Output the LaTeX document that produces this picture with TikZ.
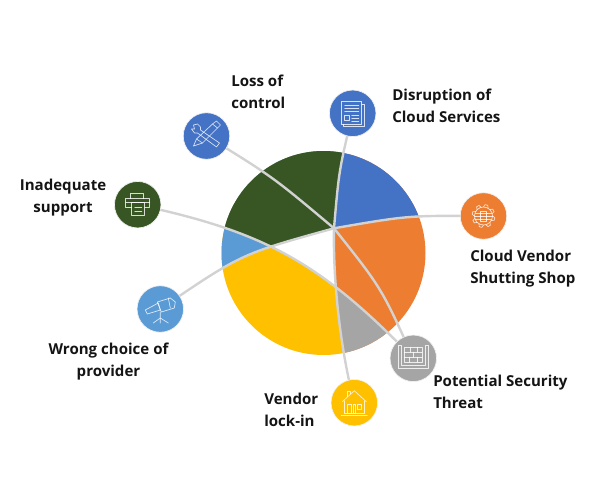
\documentclass[tikz,border=0pt]{standalone}
\usepackage{fontspec}
\setmainfont{Open Sans}
\usetikzlibrary{backgrounds}
\definecolor{cblue}{HTML}{4472C4}
\definecolor{corange}{HTML}{ED7D31}
\definecolor{cgrey}{HTML}{A5A5A5}
\definecolor{cyellow}{HTML}{FFC000}
\definecolor{clight}{HTML}{5B9BD5}
\definecolor{cgreen}{HTML}{375623}
\definecolor{cline}{HTML}{D2D2D2}
\tikzset{
  iconball/.style={circle,minimum size=46.5*0.75pt,inner sep=0pt,draw=black!6,line width=0.5pt},
  glyph/.style={draw=white,draw opacity=0.8,line width=0.5pt,line join=round,line cap=round},
  spoke/.style={draw=cline,line width=1.8pt},
  lbl/.style={font=\fontsize{11.3}{16.5}\selectfont\bfseries,text=black!92,inner sep=0pt,anchor=west,align=left},
  lblc/.style={font=\fontsize{11.3}{16.5}\selectfont\bfseries,text=black!92,inner sep=0pt,align=center}
}
\begin{document}
\begin{tikzpicture}[x=0.75pt,y=-0.75pt]
\useasboundingbox (0,0) rectangle (600,500);
% icons
\node[iconball,fill=cblue]   (lss) at (206.5,136) {};
\node[iconball,fill=cgreen]  (prn) at (137.7,204.7) {};
\node[iconball,fill=clight]  (tel) at (160.3,309) {};
\node[iconball,fill=cblue]   (dis) at (352.7,113.3) {};
\node[iconball,fill=corange] (ven) at (483.5,216) {};
\node[iconball,fill=cgrey]   (gry) at (413.3,358.3) {};
\node[iconball,fill=cyellow] (hou) at (354.3,402.7) {};
\coordinate (hub) at (334,228.3);
% connector paths
\def\Lone{(dis.center) .. controls (339,170) .. (hub) .. controls (333,270) and (338,340) .. (hou.center)}
\def\Ltwo{(ven.center) .. controls (408,215.5) .. (hub)}
\def\LthA{(lss.center) .. controls (273,177) .. (hub)}
\def\LthB{(hub) .. controls (381.5,288) .. (gry.center)}
\def\Lfou{(prn.center) .. controls (265,232) and (320,262) .. (gry.center)}
\def\Lfiv{(tel.center) .. controls (241,254) .. (hub)}
\begin{scope}[on background layer]
  \begin{scope}
    \clip (323.5,253) circle[radius=102];
    % left of the first spoke
    \begin{scope}
      \clip \Lone -- (354.3,500) -- (0,500) -- (0,0) -- (352.7,0) -- cycle;
      \fill[cyellow] (0,0) rectangle (600,500);
      \fill[white] \Lfou -- (600,358) -- (600,0) -- (0,0) -- (0,205) -- cycle;
      \fill[clight] \Lfiv -- (600,228) -- (600,0) -- (0,0) -- (0,309) -- cycle;
      \begin{scope}
        \clip \Lfou -- (600,358) -- (600,0) -- (0,0) -- (0,205) -- cycle;
        \fill[cgreen] \Lfiv -- (600,228) -- (600,0) -- (0,0) -- (0,309) -- cycle;
      \end{scope}
    \end{scope}
    % right of the first spoke
    \begin{scope}
      \clip \Lone -- (354.3,500) -- (600,500) -- (600,0) -- (352.7,0) -- cycle;
      \fill[corange] (0,0) rectangle (600,500);
      \fill[cblue] \Ltwo -- (0,228) -- (0,0) -- (600,0) -- (600,216) -- cycle;
      \fill[cgrey] \Lfou -- (600,358) -- (600,500) -- (0,500) -- (0,205) -- cycle;
    \end{scope}
  \end{scope}
  % spokes
  \draw[spoke] \Lone;
  \draw[spoke] \Ltwo;
  \draw[spoke] \LthA;
  \draw[spoke] \LthB;
  \draw[spoke] \Lfou;
  \draw[spoke] \Lfiv;
\end{scope}
% glyph: wrench and pencil
\begin{scope}[shift={(lss.center)},glyph]
  \draw (-13,10) -- (-10,3) -- (6,-12) -- (10,-15) -- (14,-11) -- (11,-8) -- (-4,7) -- cycle;
  \draw (-10,3) -- (-4,7) (6,-12) -- (11,-8);
  \draw (-13,-11) -- (-9,-12) -- (-6,-9) -- (-6,-6) -- (13,7) -- (10,11) -- (-9,-3) -- (-12,-3) -- (-15,-7) -- (-12,-7) -- cycle;
\end{scope}
% glyph: printer
\begin{scope}[shift={(prn.center)},glyph]
  \draw (-7,-6) -- (-7,-11) -- (6,-11) -- (6,-6);
  \draw (-6,3) -- (-12,3) -- (-12,-6) -- (12,-6) -- (12,3) -- (7,3);
  \draw (-12,-2) -- (12,-2);
  \draw (-6,-2) rectangle (7,11);
  \draw (-3,3) -- (4,3) (-3,7) -- (4,7);
\end{scope}
% glyph: telescope
\begin{scope}[shift={(tel.center)},glyph]
  \draw (-15,1) -- (-2,-6) -- (0,1) -- (-13,5) -- cycle;
  \draw (-3,-7) -- (10,-11) -- (15,-7) -- (14,-1) -- (1,3) -- cycle;
  \draw (8,-11) -- (10,-1);
  \draw (0,3) -- (0,9) -- (-7,14) (0,9) -- (0,14) (0,9) -- (8,14);
\end{scope}
% glyph: document
\begin{scope}[shift={(dis.center)},glyph]
  \draw (-11,-12) rectangle (9,11);
  \draw (9,-9) -- (12,-9) -- (12,13) -- (-9,13) -- (-9,11);
  \draw (-8,-8) -- (6,-8) (-8,-5) -- (6,-5) (-8,-2) -- (6,-2);
  \draw (-8,2) rectangle (-3,7) (-1,2) -- (6,2) (-1,5) -- (6,5) (-1,8) -- (6,8);
\end{scope}
% glyph: gear
\begin{scope}[shift={(ven.center)},glyph]
  \draw (0,0) circle[radius=9];
  \foreach \a in {0,45,...,315} \draw (\a:9) -- (\a+8:11.5) -- (\a+22:11.5) -- (\a+30:9);
  \draw (-8,-3) -- (8,-3) (-9,0) -- (9,0) (-8,3) -- (8,3);
  \draw (-3,-5) rectangle (3,5);
\end{scope}
% glyph: wall plan
\begin{scope}[shift={(gry.center)},glyph]
  \draw (-15,-13) -- (-15,10) -- (15,10) -- (15,-13) -- (12,-13) -- (12,7) -- (-12,7) -- (-12,-13) -- cycle;
  \draw (-9,-11) rectangle (9,4);
  \draw (-9,-6) -- (9,-6) (-9,-1) -- (9,-1);
  \draw (-3,-11) -- (-3,-6) (4,-11) -- (4,-6) (0,-6) -- (0,-1) (-4,-1) -- (-4,4) (4,-1) -- (4,4);
\end{scope}
% glyph: house
\begin{scope}[shift={(hou.center)},glyph]
  \draw (-12,-1) -- (0,-12) -- (12,-1);
  \draw (-10,-2) -- (-10,11) -- (10,11) -- (10,-2);
  \draw (-7,-6) -- (-7,-11) -- (-4,-11) -- (-4,-9);
  \draw (-7,2) rectangle (-3,11) (3,2) rectangle (7,7) (-1,2) rectangle (1,11);
  \draw (-13,13) -- (13,13);
\end{scope}
% labels
\node[lbl]  (t1) at (231,92)  {Loss of\\control};
\node[lblc] (t2) at (63,197.5)  {Inadequate\\support};
\node[lblc] (t3) at (108.5,361.5) {Wrong choice of\\provider};
\node[lbl]  (t4) at (392,106) {Disruption of\\Cloud Services};
\node[lbl]  (t5) at (470,268.5) {Cloud Vendor\\Shutting Shop};
\node[lbl]  (t6) at (433,392) {Potential Security\\Threat};
\node[lbl]  (t7) at (264,410) {Vendor\\lock-in};
\end{tikzpicture}
\end{document}
